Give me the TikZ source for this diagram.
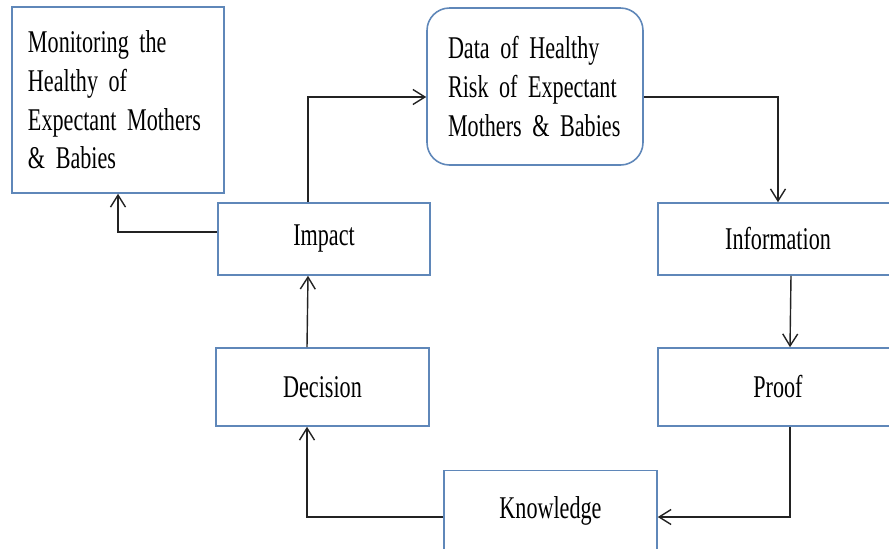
\documentclass[tikz,border=0pt]{standalone}
\usepackage{fontspec}
\setmainfont[FakeStretch=0.7,WordSpace={0.5,0.5,0.5}]{Liberation Serif}
\usetikzlibrary{arrows.meta}
\definecolor{boxblue}{RGB}{95,135,185}
\definecolor{linegrey}{RGB}{35,35,35}
\newcommand{\boxfont}{\fontsize{18}{22}\selectfont}
\begin{document}
\begin{tikzpicture}
	\tikzstyle{stage}=[rectangle,draw=boxblue,line width=0.9pt,fill=white,font=\boxfont]
	\tikzstyle{note}=[stage,align=left]
	\tikzstyle{edge}=[draw,line width=0.8pt,color=linegrey,-{Straight Barb[length=2.4mm,width=3mm]}]
	\useasboundingbox (0,0) rectangle (17.78,-10.96);
	\begin{scope}
		\node [note,inner xsep=0.32cm,text width=3.6cm,minimum height=3.72cm] (mon) at (2.36,-2.0) {Monitoring the\\Healthy of\\Expectant Mothers\\\& Babies};
		\node [note,rounded corners=0.45cm,inner xsep=0.42cm,text width=3.48cm,minimum height=3.14cm] (data) at (10.7,-1.73) {Data of Healthy\\Risk of Expectant\\Mothers \& Babies};
		\node [stage,minimum width=4.24cm,minimum height=1.44cm] (imp) at (6.48,-4.78) {Impact};
		\node [stage,minimum width=4.8cm,minimum height=1.44cm] (info) at (15.56,-4.78) {Information};
		\node [stage,minimum width=4.8cm,minimum height=1.56cm] (proof) at (15.56,-7.74) {Proof};
		\node [stage,minimum width=4.26cm,minimum height=1.56cm] (dec) at (6.45,-7.74) {Decision};
		\node [stage,minimum width=4.26cm,minimum height=1.62cm] (know) at (11.01,-10.22) {Knowledge};
		\path[edge] ([yshift=0.14cm]imp.west) -| (mon.south);
		\path[edge] ([xshift=-0.32cm]imp.north) |- ([yshift=-0.21cm]data.west);
		\path[edge] ([yshift=-0.21cm]data.east) -| (info.north);
		\path[edge] ([xshift=0.26cm]info.south) -- ([xshift=0.24cm]proof.north);
		\path[edge] ([xshift=0.24cm]proof.south) |- ([yshift=-0.12cm]know.east);
		\path[edge] ([yshift=-0.12cm]know.west) -| ([xshift=-0.31cm]dec.south);
		\path[edge] ([xshift=-0.31cm]dec.north) -- ([xshift=-0.32cm]imp.south);
	\end{scope}
\end{tikzpicture}
\end{document}
